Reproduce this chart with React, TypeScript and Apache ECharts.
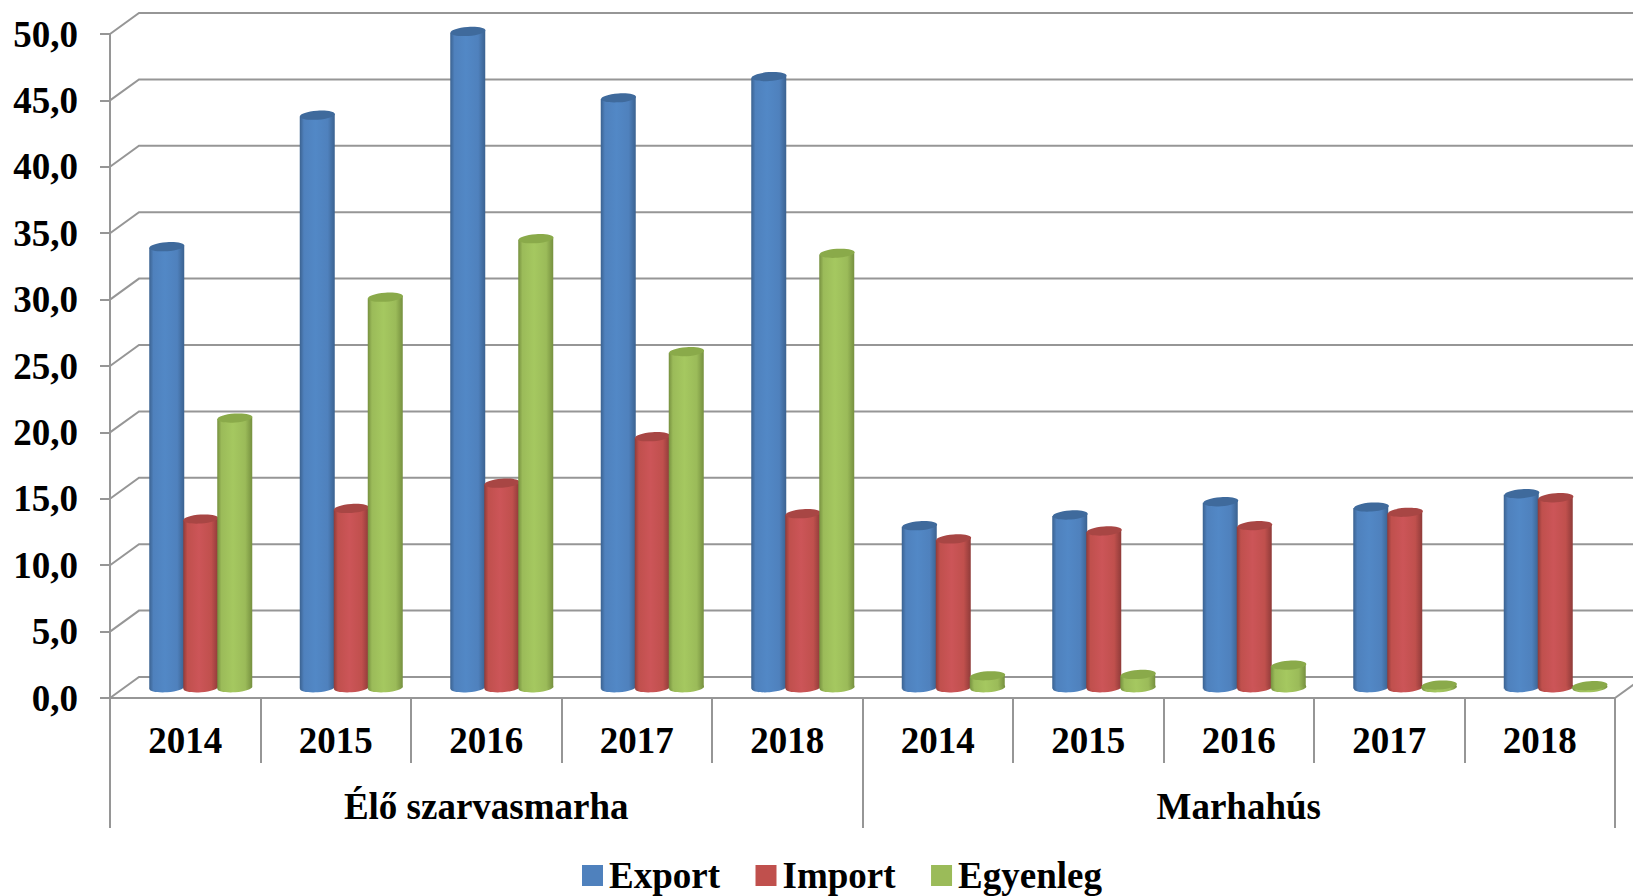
import React, { useEffect, useRef } from "react";
import * as echarts from "echarts";

const years = ["2014", "2015", "2016", "2017", "2018", "2014", "2015", "2016", "2017", "2018"];
const groups = ["Élő szarvasmarha", "Marhahús"];
const exportValues = [33.2, 43.1, 49.4, 44.4, 46.0, 12.2, 13.0, 14.0, 13.6, 14.6];
const importValues = [12.7, 13.5, 15.4, 18.9, 13.1, 11.2, 11.8, 12.2, 13.2, 14.3];
const balanceValues = [20.3, 29.4, 33.8, 25.3, 32.7, 0.9, 1.0, 1.7, 0.2, 0.15];
const yTicks = [0, 5, 10, 15, 20, 25, 30, 35, 40, 45, 50];

const GRID = "#969696";
const FONT = "'Liberation Serif', 'Times New Roman', serif";
const DEPTH_X = 29;
const DEPTH_Y = 21;
const BAR_W = 35;
const BAR_STEP = 34;
const RY = 4.5;
const TILT = 0.07;
const LIFT = 1.2;

type Tone = { main: string; bright: string; dark: string; cap: string };
const blue: Tone = { main: "#4F81BD", bright: "#5288c6", dark: "#3b6290", cap: "#3f6a9c" };
const red: Tone = { main: "#C0504D", bright: "#cc5558", dark: "#8f3b39", cap: "#a84644" };
const green: Tone = { main: "#9BBB59", bright: "#a5c860", dark: "#76903f", cap: "#8aaa4a" };

function cylinder(tone: Tone, slot: number) {
  return (params: any, api: any) => {
    const idx = api.value(0);
    const val = api.value(1);
    const base = api.coord([idx, 0]);
    const top = api.coord([idx, val]);
    const cx = base[0] + DEPTH_X / 2 + 1 + slot * BAR_STEP;
    const yb = base[1] - DEPTH_Y / 2;
    const yt = top[1] - DEPTH_Y / 2;
    const x0 = cx - BAR_W / 2;
    const x1 = cx + BAR_W / 2;
    const fill = new echarts.graphic.LinearGradient(0, 0, 1, 0, [
      { offset: 0, color: tone.dark },
      { offset: 0.12, color: tone.main },
      { offset: 0.45, color: tone.bright },
      { offset: 0.8, color: tone.main },
      { offset: 1, color: tone.dark },
    ]);
    return {
      type: "group",
      children: [
        {
          type: "ellipse",
          shape: { cx, cy: yb, rx: BAR_W / 2, ry: RY },
          rotation: TILT,
          originX: cx,
          originY: yb,
          style: { fill },
        },
        {
          type: "polygon",
          shape: { points: [[x0, yt + LIFT], [x1, yt - LIFT], [x1, yb - LIFT], [x0, yb + LIFT]] },
          style: { fill },
        },
        {
          type: "ellipse",
          shape: { cx, cy: yt, rx: BAR_W / 2, ry: RY },
          rotation: TILT,
          originX: cx,
          originY: yt,
          style: { fill: tone.cap },
        },
      ],
    };
  };
}

function wallLine(params: any, api: any) {
  const v = api.value(0);
  const p = api.coord([0, v]);
  const left = params.coordSys.x;
  const right = left + params.coordSys.width;
  const children: any[] = [
    {
      type: "polyline",
      shape: { points: [[left, p[1]], [left + DEPTH_X, p[1] - DEPTH_Y], [right + DEPTH_X, p[1] - DEPTH_Y]] },
      style: { stroke: GRID, lineWidth: 2, fill: "none" },
    },
  ];
  if (v === 0) {
    children.push({
      type: "line",
      shape: { x1: right, y1: p[1], x2: right + DEPTH_X, y2: p[1] - DEPTH_Y },
      style: { stroke: GRID, lineWidth: 2 },
    });
  }
  return { type: "group", children };
}

const toData = (arr: number[]) => arr.map((v, i) => [i, v]);

function barSeries(name: string, values: number[], tone: Tone, slot: number) {
  return {
    name,
    type: "custom",
    renderItem: cylinder(tone, slot),
    data: toData(values),
    encode: { x: 0, y: 1 },
    itemStyle: { color: tone.main },
    clip: false,
    z: 5 + slot,
    silent: true,
  };
}

export default function App() {
  const ref = useRef<HTMLDivElement>(null);
  useEffect(() => {
    document.body.style.margin = "0";
    const chart = echarts.init(ref.current!, null, { renderer: "svg" });
    chart.setOption({
      animation: false,
      backgroundColor: "#ffffff",
      grid: { left: 110, right: 18, top: 34, height: 664 },
      xAxis: [
        {
          type: "category",
          data: years,
          position: "bottom",
          axisLine: { show: true, lineStyle: { color: GRID, width: 2 } },
          axisTick: { show: true, length: 65, interval: 0, lineStyle: { color: GRID, width: 2 } },
          axisLabel: { interval: 0, margin: 24, color: "#000", fontFamily: FONT, fontWeight: "bold", fontSize: 37 },
        },
        {
          type: "category",
          data: groups,
          position: "bottom",
          axisLine: { show: false },
          axisTick: { show: true, length: 130, interval: 0, lineStyle: { color: GRID, width: 2 } },
          axisLabel: { interval: 0, margin: 90, color: "#000", fontFamily: FONT, fontWeight: "bold", fontSize: 37 },
        },
      ],
      yAxis: {
        type: "value",
        min: 0,
        max: 50,
        interval: 5,
        splitLine: { show: false },
        axisLine: { show: true, lineStyle: { color: GRID, width: 2 } },
        axisTick: { show: true, length: 10, lineStyle: { color: GRID, width: 2 } },
        axisLabel: {
          margin: 32,
          color: "#000",
          fontFamily: FONT,
          fontWeight: "bold",
          fontSize: 37,
          formatter: (v: number) => v.toFixed(1).replace(".", ","),
        },
      },
      legend: {
        left: 582,
        top: 857,
        padding: 0,
        itemWidth: 21,
        itemHeight: 21,
        itemGap: 35.5,
        icon: "rect",
        data: ["Export", "Import", "Egyenleg"],
        textStyle: { color: "#000", fontFamily: FONT, fontWeight: "bold", fontSize: 37, padding: [0, 0, 0, 1] },
      },
      series: [
        {
          name: "walls",
          type: "custom",
          renderItem: wallLine,
          data: yTicks.map((v) => [v]),
          encode: { y: 0 },
          clip: false,
          z: 1,
          silent: true,
        },
        barSeries("Export", exportValues, blue, -1),
        barSeries("Import", importValues, red, 0),
        barSeries("Egyenleg", balanceValues, green, 1),
      ],
    });
    return () => chart.dispose();
  }, []);
  return <div ref={ref} style={{ position: "fixed", left: 0, top: 0, width: 1633, height: 896 }} />;
}
